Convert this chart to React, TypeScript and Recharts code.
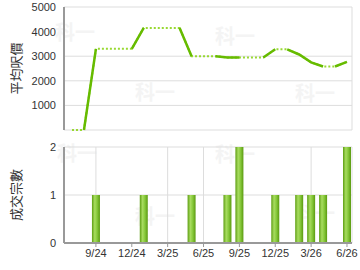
import {
  ComposedChart,
  LineChart,
  Line,
  Bar,
  XAxis,
  YAxis,
  CartesianGrid,
} from 'recharts';

// months from 7/24 to 6/26, x = index
const months = [
  '7/24', '8/24', '9/24', '10/24', '11/24', '12/24',
  '1/25', '2/25', '3/25', '4/25', '5/25', '6/25',
  '7/25', '8/25', '9/25', '10/25', '11/25', '12/25',
  '1/26', '2/26', '3/26', '4/26', '5/26', '6/26',
];
const avgPrice = [
  0, 0, 3300, 3300, 3300, 3300,
  4150, 4150, 4150, 4150, 3000, 3000,
  3000, 2950, 2950, 2950, 2950, 3280,
  3280, 3070, 2750, 2580, 2580, 2770,
];
const deals = [
  0, 0, 1, 0, 0, 0,
  1, 0, 0, 0, 1, 0,
  0, 1, 2, 0, 0, 1,
  0, 1, 1, 1, 0, 2,
];
const tickIdx = [2, 5, 8, 11, 14, 17, 20, 23];
const tickLabels = ['9/24', '12/24', '3/25', '6/25', '9/25', '12/25', '3/26', '6/26'];

// segment (i-1 -> i) is solid when month i has deals; split chains in two series so gaps stay open
const solidA: (number | null)[] = months.map(() => null);
const solidB: (number | null)[] = months.map(() => null);
let chain = -1;
for (let i = 1; i < months.length; i++) {
  if (deals[i] > 0) {
    if (!(i > 1 && deals[i - 1] > 0)) chain++;
    const s = chain % 2 === 0 ? solidA : solidB;
    s[i - 1] = avgPrice[i - 1];
    s[i] = avgPrice[i];
  }
}

const data = months.map((m, i) => ({
  x: i,
  month: m,
  price: avgPrice[i],
  a: solidA[i],
  b: solidB[i],
  deals: deals[i],
}));

const domain: [number, number] = [-0.67, 23.42];
const fmt = (v: number) => tickLabels[tickIdx.indexOf(v)] ?? '';
const tickStyle = { fontSize: 11, fill: '#333', fontFamily: 'Liberation Sans, Arial, sans-serif' };

const axisLabel = (text: string) => (props: any) => {
  const vb = props.viewBox || {};
  const cy = (vb.y ?? 0) + (vb.height ?? 0) / 2;
  return (
    <text
      x={15}
      y={cy}
      transform={`rotate(-90, 15, ${cy})`}
      textAnchor="middle"
      dominantBaseline="central"
      fontSize={13}
      fill="#333"
      fontFamily="Noto Sans CJK TC, sans-serif"
    >
      {text}
    </text>
  );
};

const marks = [
  [55, 22], [135, 82], [215, 26], [295, 83],
  [57, 143], [135, 206], [215, 144], [295, 203],
];

export default function App() {
  return (
    <div style={{ position: 'absolute', left: 0, top: 0, width: 360, height: 270, background: '#fff' }}>
      {marks.map(([x, y], i) => (
        <span
          key={i}
          style={{
            position: 'absolute', left: x, top: y, fontSize: 20, fontWeight: 'bold',
            color: '#f4f4f4', fontFamily: 'Noto Sans CJK TC, sans-serif', lineHeight: 1,
          }}
        >
          科一
        </span>
      ))}
      <div style={{ position: 'absolute', left: 0, top: 0 }}>
        <LineChart width={360} height={135} data={data} margin={{ top: 7, right: 8, bottom: 5, left: 0 }}>
          <CartesianGrid stroke="#dddddd" />
          <XAxis
            dataKey="x"
            type="number"
            domain={domain}
            ticks={tickIdx}
            tick={false}
            tickLine={false}
            height={0}
            axisLine={{ stroke: '#999', strokeWidth: 2 }}
          />
          <YAxis
            type="number"
            domain={[0, 5000]}
            ticks={[0, 1000, 2000, 3000, 4000, 5000]}
            width={64}
            tickLine={false}
            tickSize={6}
            tickMargin={2}
            tick={tickStyle}
            axisLine={{ stroke: '#999', strokeWidth: 2 }}
            label={{ value: '平均呎價', content: axisLabel('平均呎價') }}
          />
          <Line dataKey="price" stroke="#99d933" strokeWidth={2} strokeDasharray="2 2" dot={false} isAnimationActive={false} />
          <Line dataKey="a" stroke="#66bb00" strokeWidth={2.5} dot={false} connectNulls={false} isAnimationActive={false} />
          <Line dataKey="b" stroke="#66bb00" strokeWidth={2.5} dot={false} connectNulls={false} isAnimationActive={false} />
        </LineChart>
      </div>
      <div style={{ position: 'absolute', left: 0, top: 140 }}>
        <ComposedChart width={360} height={130} data={data} margin={{ top: 7, right: 8, bottom: 5, left: 0 }}>
          <defs>
            <linearGradient id="barFill" x1="0" y1="0" x2="1" y2="0">
              <stop offset="0%" stopColor="#5d9e12" />
              <stop offset="35%" stopColor="#a8dc60" />
              <stop offset="65%" stopColor="#86c83a" />
              <stop offset="100%" stopColor="#5a9a10" />
            </linearGradient>
          </defs>
          <CartesianGrid stroke="#dddddd" />
          <XAxis
            dataKey="x"
            type="number"
            domain={domain}
            ticks={tickIdx}
            tickFormatter={fmt}
            tick={tickStyle}
            tickSize={4}
            tickLine={{ stroke: '#999' }}
            height={22}
            axisLine={{ stroke: '#999', strokeWidth: 2 }}
          />
          <YAxis
            type="number"
            domain={[0, 2]}
            ticks={[0, 1, 2]}
            width={64}
            tickLine={false}
            tickSize={6}
            tickMargin={2}
            tick={tickStyle}
            axisLine={{ stroke: '#999', strokeWidth: 2 }}
            label={{ value: '成交宗數', content: axisLabel('成交宗數') }}
          />
          <Bar dataKey="deals" barSize={8} fill="url(#barFill)" isAnimationActive={false} />
        </ComposedChart>
      </div>
    </div>
  );
}
